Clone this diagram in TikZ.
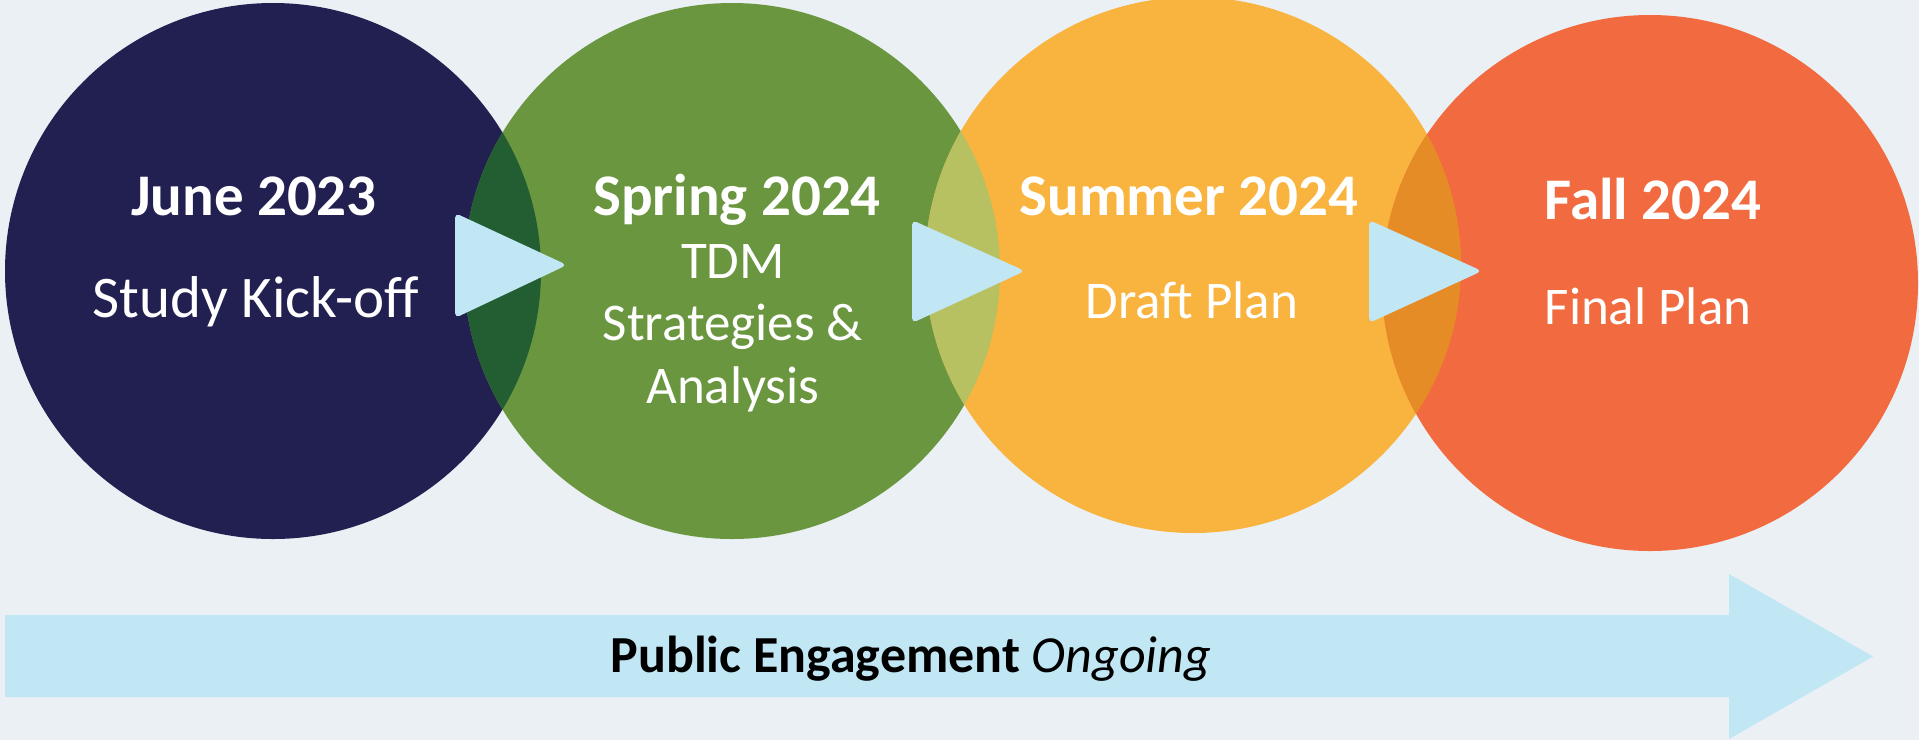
\documentclass[tikz,border=0pt]{standalone}
\usepackage{fontspec}
\setmainfont{Carlito}
\definecolor{bg}{HTML}{EAF0F3}
\definecolor{navy}{HTML}{221F51}
\definecolor{leaf}{HTML}{6A963F}
\definecolor{lensA}{HTML}{235E33}
\definecolor{amber}{HTML}{F9B33F}
\definecolor{lensB}{HTML}{B8C162}
\definecolor{coral}{HTML}{F26B40}
\definecolor{lensC}{HTML}{E68C27}
\definecolor{sky}{HTML}{C1E6F4}
\tikzset{
  phase/.style={circle, minimum size=536pt, inner sep=0pt, draw=none},
  pointer/.style={fill=sky, rounded corners=5pt},
  ttl/.style={anchor=base, text=white, font=\fontsize{59}{62}\selectfont\bfseries, inner sep=0pt},
  sub/.style={anchor=base, text=white, font=\fontsize{53}{62.5}\selectfont, inner sep=0pt, align=center},
}
\begin{document}
\begin{tikzpicture}[x=1pt,y=-1pt]
\fill[bg] (0,0) rectangle (1919,740);
\useasboundingbox (0,0) rectangle (1919,740);
% circles
\node[phase, fill=navy]  (c1) at (273,271) {};
\node[phase, fill=leaf]  (c2) at (732,271) {};
\node[phase, fill=amber] (c3) at (1193,265) {};
\node[phase, fill=coral] (c4) at (1650,283) {};
% overlaps
\begin{scope}
  \clip (273,271) circle (268);
  \fill[lensA] (732,271) circle (268);
\end{scope}
\begin{scope}
  \clip (732,271) circle (268);
  \fill[lensB] (1193,265) circle (268);
\end{scope}
\begin{scope}
  \clip (1193,265) circle (268);
  \fill[lensC] (1650,283) circle (268);
\end{scope}
% pointers
\fill[pointer] (455,213) -- (567,265) -- (455,318) -- cycle;
\fill[pointer] (912,220) -- (1025,271) -- (912,323) -- cycle;
\fill[pointer] (1369,220) -- (1482,271) -- (1369,323) -- cycle;
% texts
\node[ttl] (t1) at (254,215) {June 2023};
\node[anchor=base, text=white, font=\fontsize{59}{62}\selectfont, inner sep=0pt] (s1) at (256,317) {Study Kick-off};
\node[ttl] (t2) at (737,215) {Spring 2024};
\node[sub] (s2a) at (733,278) {TDM};
\node[sub] (s2b) at (733,340) {Strategies \&};
\node[sub] (s2c) at (733,403) {Analysis};
\node[ttl] (t3) at (1189,215) {Summer 2024};
\node[sub] (s3) at (1192,318.6) {Draft Plan};
\node[ttl] (t4) at (1653,219.6) {Fall 2024};
\node[sub] (s4) at (1648,324) {Final Plan};
% engagement arrow
\fill[sky] (5,615) -- (1729,615) -- (1729,574) -- (1873,656.5) -- (1729,739) -- (1729,697) -- (5,697) -- cycle;
\node[anchor=base, inner sep=0pt, text=black, font=\fontsize{52}{60}\selectfont] (pe) at (911,672) {\textbf{Public Engagement} \textit{Ongoing}};
\end{tikzpicture}
\end{document}
